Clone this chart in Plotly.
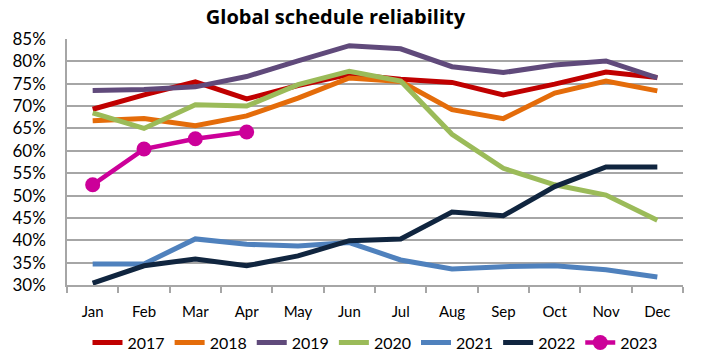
import plotly.graph_objects as go

months = ["Jan", "Feb", "Mar", "Apr", "May", "Jun", "Jul", "Aug", "Sep", "Oct", "Nov", "Dec"]
y2017 = [69.3, 72.5, 75.4, 71.6, 74.6, 77.1, 76.0, 75.3, 72.5, 74.9, 77.6, 76.4]
y2018 = [66.7, 67.2, 65.6, 67.8, 71.8, 76.3, 75.5, 69.2, 67.2, 72.9, 75.6, 73.4]
y2019 = [73.5, 73.7, 74.3, 76.6, 80.1, 83.5, 82.8, 78.8, 77.5, 79.2, 80.1, 76.3]
y2020 = [68.5, 65.0, 70.3, 70.0, 74.8, 77.8, 75.6, 63.7, 56.1, 52.4, 50.1, 44.5]
y2021 = [34.7, 34.7, 40.3, 39.1, 38.7, 39.5, 35.6, 33.6, 34.1, 34.3, 33.4, 31.8]
y2022 = [30.4, 34.3, 35.8, 34.3, 36.5, 39.9, 40.3, 46.3, 45.5, 52.0, 56.4, 56.4]
y2023 = [52.4, 60.4, 62.7, 64.2]

series = [
    ("2017", y2017, "#C00000"),
    ("2018", y2018, "#E46C0A"),
    ("2019", y2019, "#604A7B"),
    ("2020", y2020, "#9BBB59"),
    ("2021", y2021, "#4F81BD"),
    ("2022", y2022, "#10253F"),
    ("2023", y2023, "#CC0099"),
]

FONT = "Lato, Open Sans, sans-serif"
fig = go.Figure()
for name, vals, col in series:
    if name == "2023":
        fig.add_trace(go.Scatter(x=months[:len(vals)], y=vals, name=name, mode="lines+markers",
                                 line=dict(color=col, width=4.5),
                                 marker=dict(color=col, size=15)))
    else:
        fig.add_trace(go.Scatter(x=months[:len(vals)], y=vals, name=name, mode="lines",
                                 line=dict(color=col, width=5)))

fig.update_layout(
    width=710, height=361,
    margin=dict(l=67, r=27, t=39, b=76, autoexpand=False),
    paper_bgcolor="white", plot_bgcolor="white",
    font=dict(family=FONT, size=14, color="black"),
    title=dict(text="<b>Global schedule reliability</b>", x=0.4725, xanchor="center",
               y=0.953, yanchor="middle", automargin=False,
               font=dict(family="Open Sans, sans-serif", size=20, color="black")),
    showlegend=True,
    legend=dict(orientation="h", x=0.5, xanchor="center", y=-0.165, yanchor="top",
                font=dict(family=FONT, size=16), itemwidth=30, tracegroupgap=0),
)
fig.update_xaxes(
    categoryorder="array", categoryarray=months, range=[-0.5, 11.5], automargin=False,
    showgrid=False, showline=True, linecolor="#A6A6A6", linewidth=1.5,
    ticks="outside", tickson="boundaries", ticklen=6, tickcolor="#A6A6A6", tickwidth=1.5,
    tickfont=dict(family=FONT, size=15), ticklabelstandoff=12,
)
fig.update_yaxes(
    range=[30, 85], dtick=5, ticksuffix="%", automargin=False,
    showgrid=True, gridcolor="#A6A6A6", gridwidth=1.5,
    showline=True, linecolor="#A6A6A6", linewidth=1.5,
    zeroline=False, ticks="", tickfont=dict(family=FONT, size=17), ticklabelstandoff=16,
)
fig.write_html("out.html", config={"displayModeBar": False},
               post_script="document.body.style.margin='0';document.body.style.overflow='hidden';")
